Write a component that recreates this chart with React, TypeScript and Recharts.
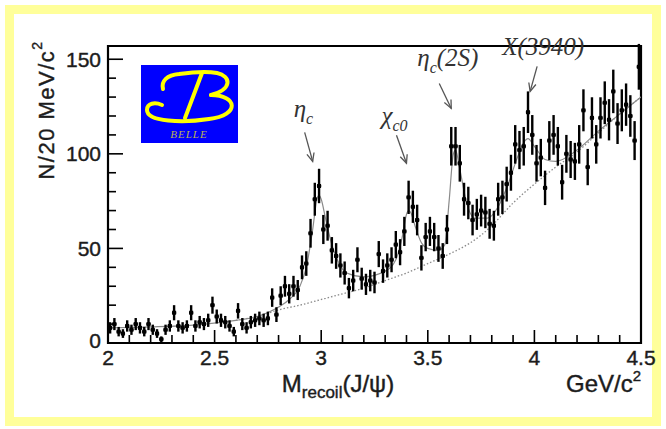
import React from 'react';
import {
  ComposedChart,
  Scatter,
  Line,
  XAxis,
  YAxis,
  ErrorBar,
  ReferenceArea,
  ReferenceDot,
} from 'recharts';

// ---- data: recoil mass bins (GeV/c^2), 20 MeV wide ----
const MASS = [
  2.01, 2.03, 2.05, 2.07, 2.09, 2.11, 2.13, 2.15, 2.17, 2.19,
  2.21, 2.23, 2.25, 2.27, 2.29, 2.31, 2.33, 2.35, 2.37, 2.39,
  2.41, 2.43, 2.45, 2.47, 2.49, 2.51, 2.53, 2.55, 2.57, 2.59,
  2.61, 2.63, 2.65, 2.67, 2.69, 2.71, 2.73, 2.75, 2.77, 2.79,
  2.81, 2.83, 2.85, 2.87, 2.89, 2.91, 2.93, 2.95, 2.97, 2.99,
  3.01, 3.03, 3.05, 3.07, 3.09, 3.11, 3.13, 3.15, 3.17, 3.19,
  3.21, 3.23, 3.25, 3.27, 3.29, 3.31, 3.33, 3.35, 3.37, 3.39,
  3.41, 3.43, 3.45, 3.47, 3.49, 3.51, 3.53, 3.55, 3.57, 3.59,
  3.61, 3.63, 3.65, 3.67, 3.69, 3.71, 3.73, 3.75, 3.77, 3.79,
  3.81, 3.83, 3.85, 3.87, 3.89, 3.91, 3.93, 3.95, 3.97, 3.99,
  4.01, 4.03, 4.05, 4.07, 4.09, 4.11, 4.13, 4.15, 4.17, 4.19,
  4.21, 4.23, 4.25, 4.27, 4.29, 4.31, 4.33, 4.35, 4.37, 4.39,
  4.41, 4.43, 4.45, 4.47, 4.49,
];

const COUNTS = [
  8, 10, 6, 5, 9, 7, 10, 8, 6, 10,
  7, 5, 2, 7, 9, 16, 9, 8, 9, 16,
  9, 11, 10, 12, 20, 14, 12, 11, 9, 6,
  17, 10, 8, 11, 12, 13, 12, 13, 24, 15,
  25, 30, 26, 30, 28, 40, 42, 58, 76, 83,
  60, 62, 49, 46, 41, 37, 29, 33, 44, 34,
  31, 33, 32, 47, 38, 41, 44, 52, 48, 59,
  77, 72, 65, 45, 56, 59, 56, 50, 46, 60,
  104, 104, 95, 76, 74, 65, 68, 70, 69, 63,
  62, 76, 77, 84, 90, 105, 102, 104, 122, 110,
  95, 98, 82, 107, 110, 104, 85, 100, 97, 96,
  105, 123, 93, 119, 105, 119, 127, 118, 133, 116,
  123, 126, 120, 107, 146,
];

const COUNT_ERR = [
  3, 3.2, 2.5, 2.3, 3, 2.7, 3.2, 3, 2.5, 3.2,
  2.7, 2.3, 1.5, 2.7, 3, 4, 3, 3, 3, 4,
  3, 3.3, 3.2, 3.5, 4.5, 3.7, 3.5, 3.3, 3, 2.5,
  4.1, 3.2, 3, 3.3, 3.5, 3.6, 3.5, 3.6, 4.9, 3.9,
  5, 5.5, 5.1, 5.5, 5.3, 6.3, 6.5, 7.6, 8.7, 9.1,
  7.7, 7.9, 7, 6.8, 6.4, 6.1, 5.4, 5.7, 6.6, 5.8,
  5.6, 5.7, 5.7, 6.9, 6.2, 6.4, 6.6, 7.2, 6.9, 7.7,
  8.8, 8.5, 8.1, 6.7, 7.5, 7.7, 7.5, 7.1, 6.8, 7.7,
  10.2, 10.2, 9.7, 8.7, 8.6, 8.1, 8.2, 8.4, 8.3, 7.9,
  7.9, 8.7, 8.8, 9.2, 9.5, 10.2, 10.1, 10.2, 11, 10.5,
  9.7, 9.9, 9.1, 10.3, 10.5, 10.2, 9.2, 10, 9.8, 9.8,
  10.2, 11.1, 9.6, 10.9, 10.2, 10.9, 11.3, 10.9, 11.5, 10.8,
  11.1, 11.2, 11, 10.3, 12.1,
];

const BIN_HALF_WIDTH = 0.01;

// total fit curve
const FIT_MASS = [
  2.0, 2.2, 2.4, 2.6, 2.7, 2.8, 2.85, 2.9, 2.93, 2.96, 2.98, 2.99, 3.0,
  3.02, 3.05, 3.08, 3.12, 3.2, 3.3, 3.35, 3.38, 3.4, 3.41, 3.42, 3.44,
  3.47, 3.5, 3.55, 3.58, 3.6, 3.62, 3.63, 3.65, 3.68, 3.72, 3.78, 3.83,
  3.88, 3.92, 3.95, 3.97, 4.0, 4.05, 4.1, 4.2, 4.3, 4.4, 4.5,
];
const FIT_VALUE = [
  8, 8.5, 9.5, 12, 14, 19, 23, 30, 40, 60, 76, 78, 76,
  66, 52, 43, 37, 35, 38, 44, 56, 68, 70, 69, 62,
  53, 50, 49, 52, 75, 100, 102, 92, 75, 66, 66, 72,
  85, 98, 106, 108, 104, 97, 96, 102, 112, 121, 130,
];

// background (dotted)
const BKG_MASS = [
  2.6, 2.7, 2.8, 2.9, 3.0, 3.1, 3.2, 3.3, 3.4, 3.5, 3.6, 3.7, 3.75, 3.8,
  3.9, 4.0, 4.1, 4.2, 4.3, 4.4, 4.5,
];
const BKG_VALUE = [
  12, 14, 17.5, 20, 23, 26, 29, 33, 37, 42, 47, 53, 57, 62,
  74, 84, 93, 101, 111, 121, 130,
];

// axes
const X_TICKS = [
  2.0, 2.1, 2.2, 2.3, 2.4, 2.5, 2.6, 2.7, 2.8, 2.9, 3.0, 3.1, 3.2, 3.3,
  3.4, 3.5, 3.6, 3.7, 3.8, 3.9, 4.0, 4.1, 4.2, 4.3, 4.4, 4.5,
];
const X_MAJOR = [2, 2.5, 3, 3.5, 4, 4.5];
const Y_TICKS = [0, 10, 20, 30, 40, 50, 60, 70, 80, 90, 100, 110, 120, 130, 140, 150];
const Y_MAJOR = [0, 50, 100, 150];
const X_DOMAIN = [2, 4.5];
const Y_DOMAIN = [0, 157];

// peak annotations
const PEAK_SYMBOL = ['η', 'χ', 'η', 'X(3940)'];
const PEAK_SUB = ['c', 'c0', 'c', ''];
const PEAK_SUFFIX = ['', '', '(2S)', ''];
const PEAK_MASS = [2.96, 3.4, 3.61, 3.98];
const ARROW_TIP = [96, 95, 124, 133];

// ---- layout / style ----
const W = 666;
const H = 429;
const MARGIN = { top: 46, right: 25, bottom: 56, left: 48 };
const Y_AXIS_W = 60;
const X_AXIS_H = 30;
const PLOT_LEFT = MARGIN.left + Y_AXIS_W;
const PLOT_BOTTOM = H - MARGIN.bottom - X_AXIS_H;
const SANS = "'Liberation Sans', Arial, Helvetica, sans-serif";
const SERIF = "'Liberation Serif', 'Times New Roman', serif";
const TEXT_COLOR = '#1c1c1c';

// per-annotation arrow tail offset and label offset (px, relative to tip)
const ANNOT_STYLE = [
  { tail: [-8, -29], label: [-19, -44] },
  { tail: [-10, -28], label: [-25, -39] },
  { tail: [-12, -25], label: [-34, -42] },
  { tail: [7, -25], label: [-28, -36] },
];

const points = MASS.map((m, i) => ({
  m,
  v: COUNTS[i],
  err: COUNT_ERR[i],
  xerr: BIN_HALF_WIDTH,
}));
const fitData = FIT_MASS.map((m, i) => ({ m, v: FIT_VALUE[i] }));
const bkgData = BKG_MASS.map((m, i) => ({ m, v: BKG_VALUE[i] }));

const XTick = (props: any) => {
  const { x, payload } = props;
  const v = payload.value;
  const major = X_MAJOR.includes(v);
  return (
    <g>
      <line
        x1={x}
        x2={x}
        y1={PLOT_BOTTOM}
        y2={PLOT_BOTTOM - (major ? 13 : 8)}
        stroke="#000"
        strokeWidth={1.6}
      />
      {major && (
        <text
          x={x}
          y={PLOT_BOTTOM + 14}
          textAnchor="middle"
          dominantBaseline="central"
          fontFamily={SANS}
          fontSize={21}
          fill={TEXT_COLOR}
          stroke={TEXT_COLOR}
          strokeWidth={0.4}
        >
          {String(v)}
        </text>
      )}
    </g>
  );
};

const YTick = (props: any) => {
  const { y, payload } = props;
  const v = payload.value;
  const major = Y_MAJOR.includes(v);
  return (
    <g>
      <line
        x1={PLOT_LEFT}
        x2={PLOT_LEFT + (major ? 15 : 8)}
        y1={y}
        y2={y}
        stroke="#000"
        strokeWidth={1.6}
      />
      {major && (
        <text
          x={PLOT_LEFT - 7}
          y={v === 0 ? y - 3 : y}
          textAnchor="end"
          dominantBaseline="central"
          fontFamily={SANS}
          fontSize={21}
          fill={TEXT_COLOR}
          stroke={TEXT_COLOR}
          strokeWidth={0.4}
        >
          {String(v)}
        </text>
      )}
    </g>
  );
};

const PointShape = (props: any) => {
  const { cx, cy } = props;
  if (cx == null || cy == null) return <g />;
  return <rect x={cx - 2} y={cy - 2} width={4} height={4} fill="#000" />;
};

const PeakMark = ({ cx, cy, idx }: { cx: number; cy: number; idx: number }) => {
  const st = ANNOT_STYLE[idx];
  const tx = cx + st.tail[0];
  const ty = cy + st.tail[1];
  const dx = cx - tx;
  const dy = cy - ty;
  const len = Math.sqrt(dx * dx + dy * dy);
  const ux = dx / len;
  const uy = dy / len;
  const head = 9;
  const ang = 0.42;
  const c = Math.cos(ang);
  const s = Math.sin(ang);
  const h1x = cx - head * (ux * c - uy * s);
  const h1y = cy - head * (uy * c + ux * s);
  const h2x = cx - head * (ux * c + uy * s);
  const h2y = cy - head * (uy * c - ux * s);
  return (
    <g>
      <line x1={tx} y1={ty} x2={cx} y2={cy} stroke="#555" strokeWidth={1.3} />
      <polyline
        points={`${h1x},${h1y} ${cx},${cy} ${h2x},${h2y}`}
        fill="none"
        stroke="#555"
        strokeWidth={1.3}
      />
      <text
        x={cx + st.label[0]}
        y={cy + st.label[1]}
        fontFamily={SERIF}
        fontStyle="italic"
        fontSize={25}
        fill="#333"
      >
        {PEAK_SYMBOL[idx]}
        {PEAK_SUB[idx] && (
          <tspan dy={7} fontSize={16}>
            {PEAK_SUB[idx]}
          </tspan>
        )}
        {PEAK_SUFFIX[idx] && <tspan dy={-7}>{PEAK_SUFFIX[idx]}</tspan>}
      </text>
    </g>
  );
};

const BelleLogo = () => (
  <g transform="translate(141,65)">
    <rect x={0} y={0} width={97} height={78} fill="#0000ff" />
    <g fill="none" stroke="#ffff00" strokeWidth={4} strokeLinecap="round">
      <path d="M 22 24 C 20 16, 26 10, 38 9 C 52 7, 66 6, 76 8 C 90 11, 92 24, 70 30" />
      <path d="M 70 30 C 96 30, 100 50, 68 54 C 42 58, 6 57, 6 45 C 6 38, 14 37, 21 40" />
      <path d="M 61 8 L 44 53" />
    </g>
    <text
      x={48}
      y={73}
      textAnchor="middle"
      fontFamily={SERIF}
      fontStyle="italic"
      fontSize={11}
      fill="#b8b050"
      letterSpacing={1}
    >
      BELLE
    </text>
  </g>
);

export default function App() {
  return (
    <div style={{ position: 'absolute', left: 0, top: 0, width: W, height: H, background: '#fff' }}>
      <div
        style={{
          position: 'absolute',
          left: 5,
          top: 5,
          width: 656,
          height: 421,
          boxSizing: 'border-box',
          border: '9px solid #ffff9a',
        }}
      />
      <div style={{ position: 'absolute', left: 0, top: 0 }}>
        <ComposedChart width={W} height={H} margin={MARGIN}>
          <XAxis
            type="number"
            dataKey="m"
            domain={X_DOMAIN}
            ticks={X_TICKS}
            interval={0}
            allowDataOverflow
            height={X_AXIS_H}
            tickLine={false}
            axisLine={{ stroke: '#000', strokeWidth: 2 }}
            tick={XTick}
          />
          <YAxis
            type="number"
            dataKey="v"
            domain={Y_DOMAIN}
            ticks={Y_TICKS}
            interval={0}
            allowDataOverflow
            width={Y_AXIS_W}
            tickLine={false}
            axisLine={{ stroke: '#000', strokeWidth: 2 }}
            tick={YTick}
          />
          <Line
            data={bkgData}
            dataKey="v"
            type="monotone"
            dot={false}
            stroke="#8a8a8a"
            strokeWidth={1.3}
            strokeDasharray="1.5 2"
            isAnimationActive={false}
          />
          <Line
            data={fitData}
            dataKey="v"
            type="monotone"
            dot={false}
            stroke="#8a8a8a"
            strokeWidth={1.2}
            isAnimationActive={false}
          />
          <Scatter data={points} dataKey="v" shape={PointShape} isAnimationActive={false}>
            <ErrorBar dataKey="err" direction="y" width={0} stroke="#000" strokeWidth={2.4} />
            <ErrorBar dataKey="xerr" direction="x" width={0} stroke="#000" strokeWidth={2.2} />
          </Scatter>
          <ReferenceArea
            x1={X_DOMAIN[0]}
            x2={X_DOMAIN[1]}
            y1={Y_DOMAIN[0]}
            y2={Y_DOMAIN[1]}
            fill="none"
            fillOpacity={0}
            stroke="#000"
            strokeWidth={2.2}
            ifOverflow="visible"
          />
          {PEAK_MASS.map((m, i) => (
            <ReferenceDot
              key={PEAK_SYMBOL[i] + i}
              x={m}
              y={ARROW_TIP[i]}
              r={0}
              ifOverflow="visible"
              shape={(p: any) => <PeakMark cx={p.cx} cy={p.cy} idx={i} />}
            />
          ))}
        </ComposedChart>
      </div>
      <svg
        width={W}
        height={H}
        style={{ position: 'absolute', left: 0, top: 0, pointerEvents: 'none' }}
      >
        <BelleLogo />
        <text
          transform="translate(46,110) rotate(-90)"
          textAnchor="middle"
          dominantBaseline="central"
          fontFamily={SANS}
          fontSize={22}
          letterSpacing={1.5}
          fill={TEXT_COLOR}
          stroke={TEXT_COLOR}
          strokeWidth={0.4}
        >
          N/20 MeV/c
          <tspan dy={-9} fontSize={14}>
            2
          </tspan>
        </text>
        <text
          x={338}
          y={392}
          textAnchor="middle"
          fontFamily={SANS}
          fontSize={24}
          fill={TEXT_COLOR}
          stroke={TEXT_COLOR}
          strokeWidth={0.4}
        >
          M
          <tspan dy={6} fontSize={17}>
            recoil
          </tspan>
          <tspan dy={-6}>(J/ψ)</tspan>
        </text>
        <text
          x={566}
          y={392}
          fontFamily={SANS}
          fontSize={24}
          fill={TEXT_COLOR}
          stroke={TEXT_COLOR}
          strokeWidth={0.4}
        >
          GeV/c
          <tspan dy={-11} fontSize={15}>
            2
          </tspan>
        </text>
      </svg>
    </div>
  );
}
